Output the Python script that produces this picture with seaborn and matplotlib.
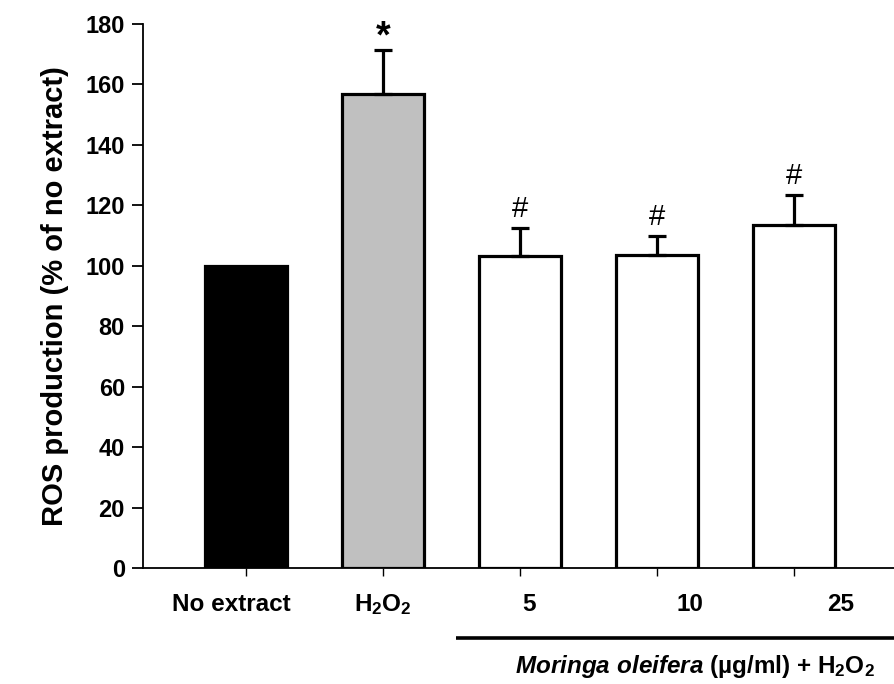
import matplotlib
matplotlib.use("Agg")
import matplotlib.pyplot as plt
import matplotlib.transforms as mtransforms
import seaborn as sns
import pandas as pd
import numpy as np

categories = ["No extract", "H2O2", "5", "10", "25"]
tick_labels = ["No extract", r"H$_2$O$_2$", "5", "10", "25"]
label_offsets = [-0.11, 0.0, 0.07, 0.24, 0.34]
means = [100.0, 156.8, 103.2, 103.5, 113.6]
errors = [0.0, 14.7, 9.4, 6.2, 9.7]
bar_colors = ["#000000", "#c0c0c0", "#ffffff", "#ffffff", "#ffffff"]
marks = ["", "*", "#", "#", "#"]
y_ticks = [0, 20, 40, 60, 80, 100, 120, 140, 160, 180]

sns.set_theme(style="ticks")
plt.rcParams["font.family"] = ["Liberation Sans", "DejaVu Sans"]
plt.rcParams["font.weight"] = "bold"
plt.rcParams["text.color"] = "black"
plt.rcParams["axes.labelcolor"] = "black"
plt.rcParams["xtick.color"] = "black"
plt.rcParams["ytick.color"] = "black"
plt.rcParams["mathtext.fontset"] = "custom"
plt.rcParams["mathtext.rm"] = "Liberation Sans:bold"
plt.rcParams["mathtext.it"] = "Liberation Sans:bold:italic"
plt.rcParams["mathtext.bf"] = "Liberation Sans:bold"
plt.rcParams["mathtext.default"] = "rm"

df = pd.DataFrame({"cat": categories, "val": means})

fig = plt.figure(figsize=(8.94, 6.84), dpi=100)
ax = fig.add_axes([0.16, 0.1696, 0.84, 0.7953])

sns.barplot(data=df, x="cat", y="val", hue="cat", palette=bar_colors,
            width=0.6, edgecolor="black", linewidth=2.3, legend=False, ax=ax,
            errorbar=None, saturation=1)

xs = np.arange(len(categories))
lower = np.zeros(len(errors))
ax.errorbar(xs[1:], means[1:], yerr=[lower[1:], errors[1:]], fmt="none",
            ecolor="black", elinewidth=2.3, capsize=6.8, capthick=2.3, zorder=1)

for x, m, e, s in zip(xs, means, errors, marks):
    if not s:
        continue
    if s == "*":
        ax.text(x, m + e - 2.0, s, ha="center", va="bottom", fontsize=27,
                fontweight="bold")
    else:
        ax.text(x, m + e + 6.3, s, ha="center", va="center", fontsize=21,
                fontweight="normal")

ax.set_xlim(-0.752, 4.733)
ax.set_ylim(0, 180)
ax.set_yticks(y_ticks)
ax.set_yticklabels([str(t) for t in y_ticks], fontsize=17, fontweight="bold")
ax.set_xticks(xs)
ax.set_xticklabels([""] * len(xs))
ax.tick_params(axis="y", length=8, width=1.3, pad=5)
ax.tick_params(axis="x", length=6, width=1.0)
ax.set_xlabel("")
ax.set_ylabel("ROS production (% of no extract)", fontsize=21, fontweight="bold", labelpad=12)

trans = mtransforms.blended_transform_factory(ax.transData, ax.transAxes)
for x, lab, off in zip(xs, tick_labels, label_offsets):
    ax.text(x + off, -0.068, lab, transform=trans, ha="center", va="center",
            fontsize=17.5, fontweight="bold")

for side in ["top", "right"]:
    ax.spines[side].set_visible(False)
for side in ["left", "bottom"]:
    ax.spines[side].set_linewidth(1.3)
    ax.spines[side].set_color("black")

ax.plot([1.534, 4.733], [-0.1287, -0.1287], transform=trans, color="black",
        linewidth=2.6, clip_on=False, solid_capstyle="butt")
ax.text(3.28, -0.182, r"$\mathit{Moringa\ oleifera}$ (µg/ml) + H$_2$O$_2$",
        transform=trans, ha="center", va="center", fontsize=17.5, fontweight="bold")

fig.savefig("out.png", dpi=100)
